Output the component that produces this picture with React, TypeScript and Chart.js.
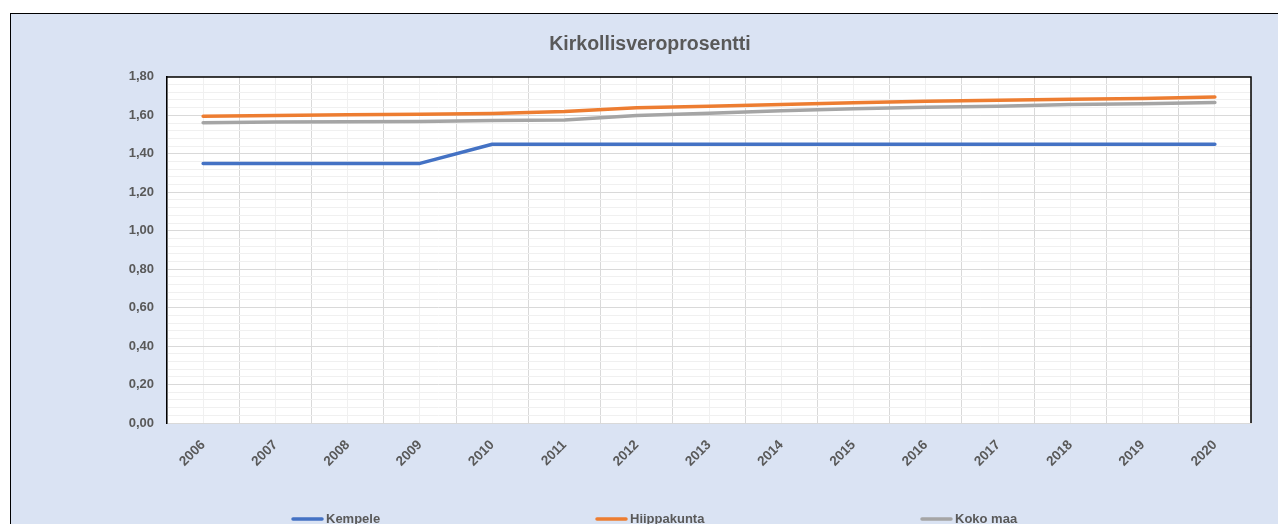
import { useEffect, useRef } from "react";
import { Chart, registerables } from "chart.js";

Chart.register(...registerables);

const years = ["2006", "2007", "2008", "2009", "2010", "2011", "2012", "2013", "2014", "2015", "2016", "2017", "2018", "2019", "2020"];
const kempele = [1.35, 1.35, 1.35, 1.35, 1.45, 1.45, 1.45, 1.45, 1.45, 1.45, 1.45, 1.45, 1.45, 1.45, 1.45];
const hiippakunta = [1.595, 1.599, 1.603, 1.606, 1.61, 1.62, 1.64, 1.648, 1.656, 1.665, 1.674, 1.679, 1.684, 1.688, 1.695];
const kokoMaa = [1.561, 1.565, 1.567, 1.568, 1.573, 1.576, 1.599, 1.611, 1.624, 1.634, 1.642, 1.648, 1.656, 1.661, 1.667];
const seriesNames = ["Kempele", "Hiippakunta", "Koko maa"];
const seriesColors = ["#4472c4", "#ed7d31", "#a5a5a5"];
const chartTitle = "Kirkollisveroprosentti";

const FONT = "'Liberation Sans', Arial, sans-serif";
const TEXT = "#595959";
const legendStarts = [291, 595, 920];
const legendY = 519;

const framePlugin = {
  id: "plotFrame",
  beforeDraw(chart: any) {
    const { ctx, chartArea } = chart;
    const { left, top, right, bottom } = chartArea;
    ctx.save();
    ctx.fillStyle = "#ffffff";
    ctx.fillRect(left, top, right - left, bottom - top);
    ctx.restore();
  },
  afterDraw(chart: any) {
    const { ctx, chartArea } = chart;
    const { left, top, right, bottom } = chartArea;
    ctx.save();
    ctx.strokeStyle = "#000000";
    ctx.lineWidth = 1.5;
    ctx.beginPath();
    ctx.moveTo(left, top);
    ctx.lineTo(right, top);
    ctx.lineTo(right, bottom);
    ctx.stroke();
    // legend
    ctx.font = `bold 13px ${FONT}`;
    ctx.textBaseline = "middle";
    ctx.textAlign = "left";
    chart.data.datasets.forEach((ds: any, i: number) => {
      const x = legendStarts[i];
      ctx.strokeStyle = ds.borderColor;
      ctx.lineWidth = 3.5;
      ctx.lineCap = "round";
      ctx.beginPath();
      ctx.moveTo(x + 2, legendY);
      ctx.lineTo(x + 31, legendY);
      ctx.stroke();
      ctx.fillStyle = TEXT;
      ctx.fillText(ds.label, x + 35, legendY);
    });
    ctx.restore();
  },
};

export default function App() {
  const ref = useRef<HTMLCanvasElement | null>(null);

  useEffect(() => {
    if (!ref.current) return;
    const series = [kempele, hiippakunta, kokoMaa];
    const chart = new Chart(ref.current, {
      type: "line",
      data: {
        labels: years,
        datasets: series.map((data, i) => ({
          label: seriesNames[i],
          data,
          borderColor: seriesColors[i],
          backgroundColor: seriesColors[i],
          borderWidth: 3.5,
          borderCapStyle: "round" as const,
          borderJoinStyle: "round" as const,
          pointRadius: 0,
          pointHoverRadius: 0,
          tension: 0,
          fill: false,
        })),
      },
      options: {
        animation: false,
        responsive: false,
        maintainAspectRatio: false,
        layout: { padding: { left: 22, right: 0, top: 0, bottom: 0 } },
        plugins: {
          legend: { display: false },
          tooltip: { enabled: false },
          title: {
            display: true,
            text: chartTitle,
            color: TEXT,
            font: { family: FONT, size: 19.5, weight: "bold" },
            padding: { top: 33, bottom: 20.5 },
          },
        },
        scales: {
          x: {
            type: "category",
            offset: true,
            grid: { offset: true, color: "#d9d9d9", lineWidth: 1, drawTicks: false },
            border: { display: true, color: "#d9d9d9", width: 1 },
            ticks: {
              color: TEXT,
              font: { family: FONT, size: 13.5, weight: "bold" },
              minRotation: 45,
              maxRotation: 45,
              autoSkip: false,
              padding: 14,
            },
            afterFit: (scale: any) => {
              scale.height = 101;
            },
          },
          x2: {
            type: "category",
            position: "bottom",
            offset: true,
            grid: { offset: false, color: "#f0f0f0", lineWidth: 1, drawTicks: false },
            border: { display: false },
            ticks: { display: false },
            afterFit: (scale: any) => {
              scale.height = 0;
            },
          },
          y: {
            min: 0,
            max: 1.8,
            grid: {
              drawTicks: false,
              color: (c: any) => (Math.round(c.tick.value * 100) % 20 === 0 ? "#d9d9d9" : "#f0f0f0"),
              lineWidth: 1,
            },
            border: { display: true, color: "#000000", width: 1.5 },
            ticks: {
              stepSize: 0.04,
              autoSkip: false,
              padding: 13,
              color: TEXT,
              font: { family: FONT, size: 13, weight: "bold" },
              callback: (v: any) => {
                const n = Number(v);
                return Math.round(n * 100) % 20 === 0 ? n.toFixed(2).replace(".", ",") : "";
              },
            },
            afterFit: (scale: any) => {
              scale.width = 145;
            },
          },
          yRight: {
            type: "linear",
            position: "right",
            display: true,
            grid: { display: false, drawTicks: false },
            border: { display: false },
            ticks: { display: false },
            afterFit: (scale: any) => {
              scale.width = 27;
            },
          },
        },
      },
      plugins: [framePlugin],
    });
    return () => chart.destroy();
  }, []);

  return (
    <div>
      <div
        style={{
          position: "fixed",
          left: 10,
          top: 13,
          width: 1268,
          height: 511,
          background: "#dae3f3",
          borderLeft: "1px solid #000",
          borderTop: "1px solid #000",
          boxSizing: "border-box",
        }}
      />
      <canvas
        ref={ref}
        width={1278}
        height={524}
        style={{ position: "fixed", left: 0, top: 0, width: 1278, height: 524 }}
      />
    </div>
  );
}
